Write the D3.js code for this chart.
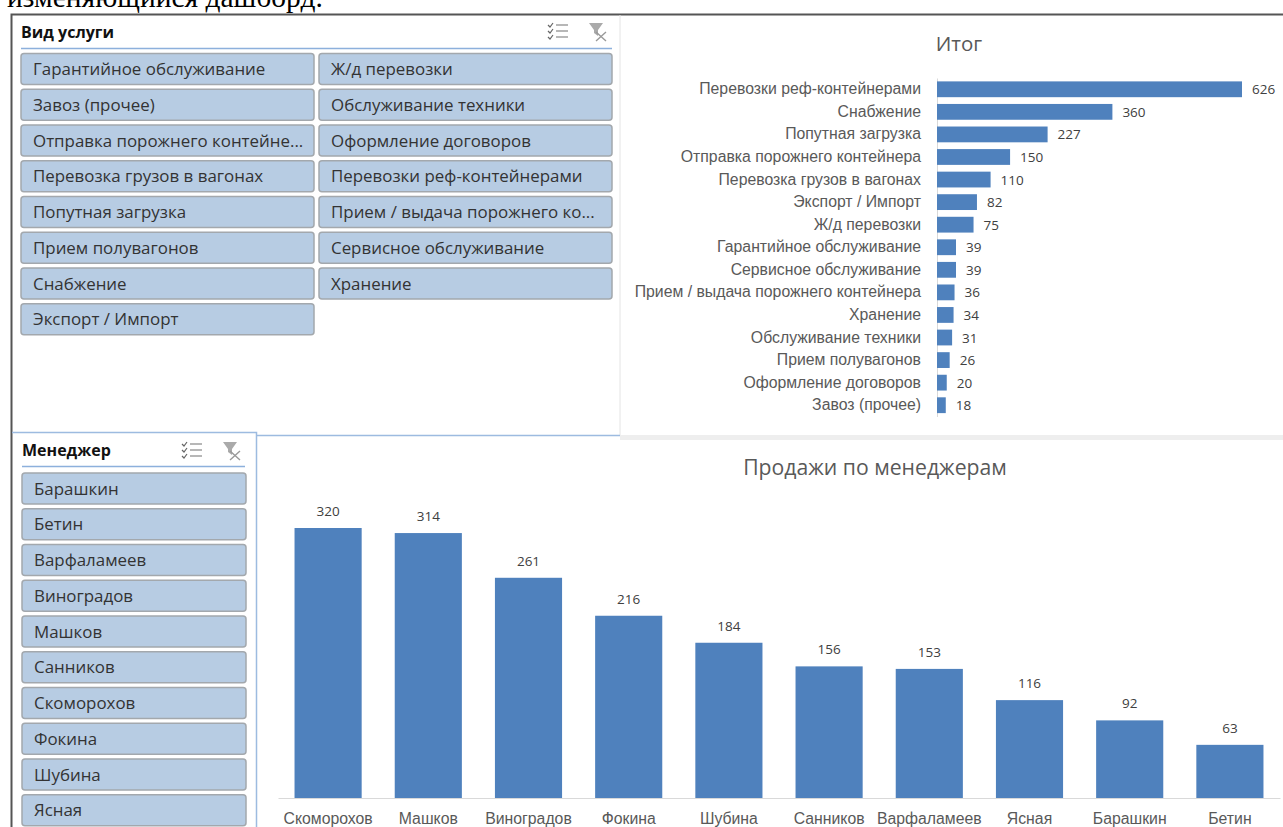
<!DOCTYPE html>
<html>
<head>
<meta charset="utf-8">
<script src="https://cdn.jsdelivr.net/npm/d3@7"></script>
<style>
    html, body { margin: 0; padding: 0; background: #fff; overflow: hidden; }
    svg { display: block; font-family: "Open Sans", "Noto Sans", sans-serif; }
    .btn rect { fill: #b7cce3; stroke: #a3a8ad; stroke-width: 1.5; }
    .btn text { fill: #333; font-size: 16.9px; }
    .slicer-title { font-weight: 700; font-size: 16px; fill: #111; }
    .chart-title { fill: #595959; }
    .axis-label { fill: #595959; font-size: 15.8px; }
    .val { fill: #404040; font-size: 13.5px; }
    .bar { fill: #4f81bd; }
</style>
</head>
<body>
<svg id="page" width="1283" height="827"></svg>
<script>
// slicer contents
const serviceButtons = ["Гарантийное обслуживание", "Завоз (прочее)", "Отправка порожнего контейне...",
    "Перевозка грузов в вагонах", "Попутная загрузка", "Прием полувагонов", "Снабжение", "Экспорт / Импорт",
    "Ж/д перевозки", "Обслуживание техники", "Оформление договоров", "Перевозки реф-контейнерами",
    "Прием / выдача порожнего ко...", "Сервисное обслуживание", "Хранение"];
const managerButtons = ["Барашкин", "Бетин", "Варфаламеев", "Виноградов", "Машков", "Санников",
    "Скоморохов", "Фокина", "Шубина", "Ясная"];

// top chart
const services = ["Перевозки реф-контейнерами", "Снабжение", "Попутная загрузка", "Отправка порожнего контейнера",
    "Перевозка грузов в вагонах", "Экспорт / Импорт", "Ж/д перевозки", "Гарантийное обслуживание",
    "Сервисное обслуживание", "Прием / выдача порожнего контейнера", "Хранение", "Обслуживание техники",
    "Прием полувагонов", "Оформление договоров", "Завоз (прочее)"];
const serviceValues = [626, 360, 227, 150, 110, 82, 75, 39, 39, 36, 34, 31, 26, 20, 18];

// bottom chart
const managers = ["Скоморохов", "Машков", "Виноградов", "Фокина", "Шубина", "Санников", "Варфаламеев", "Ясная", "Барашкин", "Бетин"];
const managerValues = [320, 314, 261, 216, 184, 156, 153, 116, 92, 63];

const svg = d3.select("#page");

// clipped line of document text above the dashboard
svg.append("text").attr("x", 7).attr("y", 7)
    .style("font-family", "'Liberation Serif', serif").style("font-size", "29.5px").style("fill", "#000")
    .text("изменяющийся дашборд.");

// frame lines
svg.append("path").attr("d", "M11.5,827V14.5H1283").attr("fill", "none").attr("stroke", "#555").attr("stroke-width", 2);
svg.append("line").attr("x1", 620).attr("x2", 620).attr("y1", 15).attr("y2", 436).attr("stroke", "#e4e4e4");
svg.append("rect").attr("x", 620).attr("y", 435).attr("width", 663).attr("height", 5).attr("fill", "#eeeeee");
svg.append("line").attr("x1", 257).attr("x2", 620).attr("y1", 435.5).attr("y2", 435.5).attr("stroke", "#9dbbe0").attr("stroke-width", 1.5);
svg.append("path").attr("d", "M12,432.5H256.5V827").attr("fill", "none").attr("stroke", "#9dbbe0").attr("stroke-width", 1.5);

function drawIcons(x, y) {
    const g = svg.append("g").attr("transform", `translate(${x},${y})`);
    // multi select
    [3, 9, 15].forEach(d => {
        g.append("path").attr("d", `M0,${d}l2,2l3,-4`).attr("fill", "none").attr("stroke", "#666").attr("stroke-width", 1.2);
        g.append("line").attr("x1", 8).attr("x2", 20).attr("y1", d).attr("y2", d).attr("stroke", "#888").attr("stroke-width", 1.2);
    });
    // clear filter
    g.append("path").attr("d", "M41,1H55L50,8V14L46,11V8Z").attr("fill", "#aaa");
    g.append("path").attr("d", "M48,10L58,19M58,10L48,19").attr("stroke", "#999").attr("stroke-width", 1.4);
}

function drawSlicer(title, items, x0, y0, w, perCol, lineX2, titleY, lineY, iconX, iconY) {
    svg.append("text").attr("class", "slicer-title").attr("x", x0).attr("y", titleY).text(title);
    svg.append("line").attr("x1", x0).attr("x2", lineX2).attr("y1", lineY).attr("y2", lineY)
        .attr("stroke", "#8db0dc").attr("stroke-width", 1.5);
    drawIcons(iconX, iconY);
    const btn = svg.selectAll(null).data(items).enter().append("g").attr("class", "btn")
        .attr("transform", (d, i) => {
            const col = Math.floor(i / perCol);
            const row = i % perCol;
            return `translate(${x0 + col * (w + 5)},${y0 + row * 35.75})`;
        });
    btn.append("rect").attr("width", w).attr("height", 31).attr("rx", 3);
    btn.append("text").attr("x", 12).attr("y", 21.5).text(d => d);
}

drawSlicer("Вид услуги", serviceButtons, 21, 53.5, 293, 8, 612, 38, 48.5, 548, 22);
drawSlicer("Менеджер", managerButtons, 22, 473, 224, 10, 245, 456, 466.5, 182, 441);

// top chart: horizontal bars
svg.append("text").attr("class", "chart-title").attr("x", 959).attr("y", 51)
    .attr("text-anchor", "middle").style("font-size", "20.5px").text("Итог");

const yTop = d3.scaleBand().domain(services).range([78, 416.5]).paddingInner(0.3).paddingOuter(0.15);
const xTop = d3.scaleLinear().domain([0, 626]).range([937, 1242]);

const topAxis = svg.append("g").attr("transform", "translate(937,0)")
    .call(d3.axisLeft(yTop).tickSize(0).tickPadding(16));
topAxis.select(".domain").attr("stroke", "#d9d9d9");
topAxis.selectAll("text").attr("class", "axis-label").style("font-family", "inherit");

svg.selectAll(null).data(services).enter().append("rect").attr("class", "bar")
    .attr("x", xTop(0)).attr("y", d => yTop(d))
    .attr("width", (d, i) => xTop(serviceValues[i]) - xTop(0)).attr("height", yTop.bandwidth());
svg.selectAll(null).data(services).enter().append("text").attr("class", "val")
    .attr("x", (d, i) => xTop(serviceValues[i]) + 10)
    .attr("y", d => yTop(d) + yTop.bandwidth() / 2 + 5)
    .text((d, i) => serviceValues[i]);

// bottom chart: columns
svg.append("text").attr("class", "chart-title").attr("x", 875).attr("y", 475)
    .attr("text-anchor", "middle").style("font-size", "21.2px").text("Продажи по менеджерам");

const xBottom = d3.scaleBand().domain(managers).range([278, 1280]).paddingInner(0.33).paddingOuter(0.165);
const yBottom = d3.scaleLinear().domain([0, 320]).range([798, 528]);

const bottomAxis = svg.append("g").attr("transform", "translate(0,798)")
    .call(d3.axisBottom(xBottom).tickSize(0).tickPadding(15));
bottomAxis.select(".domain").attr("stroke", "#d9d9d9");
bottomAxis.selectAll("text").attr("class", "axis-label").style("font-family", "inherit");

svg.selectAll(null).data(managers).enter().append("rect").attr("class", "bar")
    .attr("x", d => xBottom(d)).attr("y", (d, i) => yBottom(managerValues[i]))
    .attr("width", xBottom.bandwidth()).attr("height", (d, i) => yBottom(0) - yBottom(managerValues[i]));
svg.selectAll(null).data(managers).enter().append("text").attr("class", "val")
    .attr("text-anchor", "middle")
    .attr("x", d => xBottom(d) + xBottom.bandwidth() / 2)
    .attr("y", (d, i) => yBottom(managerValues[i]) - 12)
    .text((d, i) => managerValues[i]);
</script>
</body>
</html>
